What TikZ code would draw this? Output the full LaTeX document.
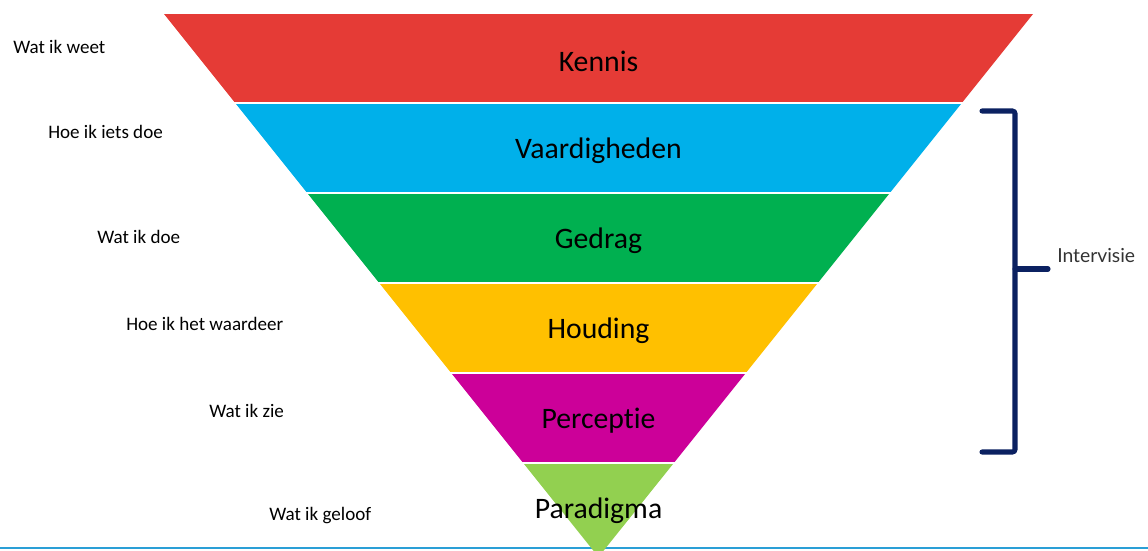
\documentclass[tikz,border=0pt]{standalone}
\usepackage{fontspec}
\setmainfont{Carlito}[Ligatures=NoCommon]
\newfontfamily\intfont{Lato}
\definecolor{kred}{HTML}{E53B36}
\definecolor{kcyan}{HTML}{00B0EA}
\definecolor{kgreen}{HTML}{00B050}
\definecolor{kyellow}{HTML}{FFC000}
\definecolor{kmagenta}{HTML}{CC0099}
\definecolor{klime}{HTML}{92D050}
\definecolor{knavy}{HTML}{0B2161}
\definecolor{kline}{HTML}{2A9FD6}
\tikzset{
  laag/.style={font=\fontsize{22.3}{26}\selectfont, text=black},
  uitleg/.style={font=\fontsize{14.3}{17}\selectfont, anchor=west, inner sep=0pt},
}
\begin{document}
\begin{tikzpicture}[x=0.75pt,y=-0.75pt]
    \useasboundingbox (0,0) rectangle (1148,550);
    \draw[kline, line width=1.2pt] (0,548) -- (1148,548);
    \fill[kred] (164,14) -- (1033,14) -- (961.8,103) -- (235.2,103) -- cycle;
    \fill[kcyan] (235.2,103) -- (961.8,103) -- (889.8,193) -- (307.2,193) -- cycle;
    \fill[kgreen] (307.2,193) -- (889.8,193) -- (817.8,283) -- (379.2,283) -- cycle;
    \fill[kyellow] (379.2,283) -- (817.8,283) -- (745.8,373) -- (451.2,373) -- cycle;
    \fill[kmagenta] (451.2,373) -- (745.8,373) -- (673.8,463) -- (523.2,463) -- cycle;
    \fill[klime] (523.2,463) -- (673.8,463) -- (598.5,557) -- cycle;
    \draw[white, line width=1.2pt] (230,103) -- (967,103);
    \draw[white, line width=1.2pt] (302,193) -- (895,193);
    \draw[white, line width=1.2pt] (374,283) -- (823,283);
    \draw[white, line width=1.2pt] (446,373) -- (751,373);
    \draw[white, line width=1.2pt] (518,463) -- (679,463);
    \node[laag] (kennis) at (598.5,61) {Kennis};
    \node[laag] (vaardigheden) at (598.5,151) {Vaardigheden};
    \node[laag] (gedrag) at (598.5,241) {Gedrag};
    \node[laag] (houding) at (598.5,331) {Houding};
    \node[laag] (perceptie) at (598.5,421) {Perceptie};
    \node[laag] (paradigma) at (598.5,511) {Paradigma};
    \node[uitleg] (weet) at (13,47) {Wat ik weet};
    \node[uitleg] (hoe) at (48,132) {Hoe ik iets doe};
    \node[uitleg] (doe) at (97,237) {Wat ik doe};
    \node[uitleg] (waardeer) at (126,324) {Hoe ik het waardeer};
    \node[uitleg] (zie) at (209,411) {Wat ik zie};
    \node[uitleg] (geloof) at (269,516) {Wat ik geloof};
    % haak rechts
    \coordinate (boven) at (982,111);
    \coordinate (onder) at (982,452);
    \coordinate (midden) at (1015,269);
    \draw[knavy, line width=3.8pt, line cap=round, rounded corners=2pt]
      (boven) -- (1015,111) -- (1015,452) -- (onder);
    \draw[knavy, line width=3.8pt, line cap=round] (midden) -- (1048,269);
    \node[font=\intfont\fontsize{14.5}{17}\selectfont, text=black!80, anchor=west, inner sep=0pt]
      (intervisie) at (1057,256) {Intervisie};
\end{tikzpicture}
\end{document}
